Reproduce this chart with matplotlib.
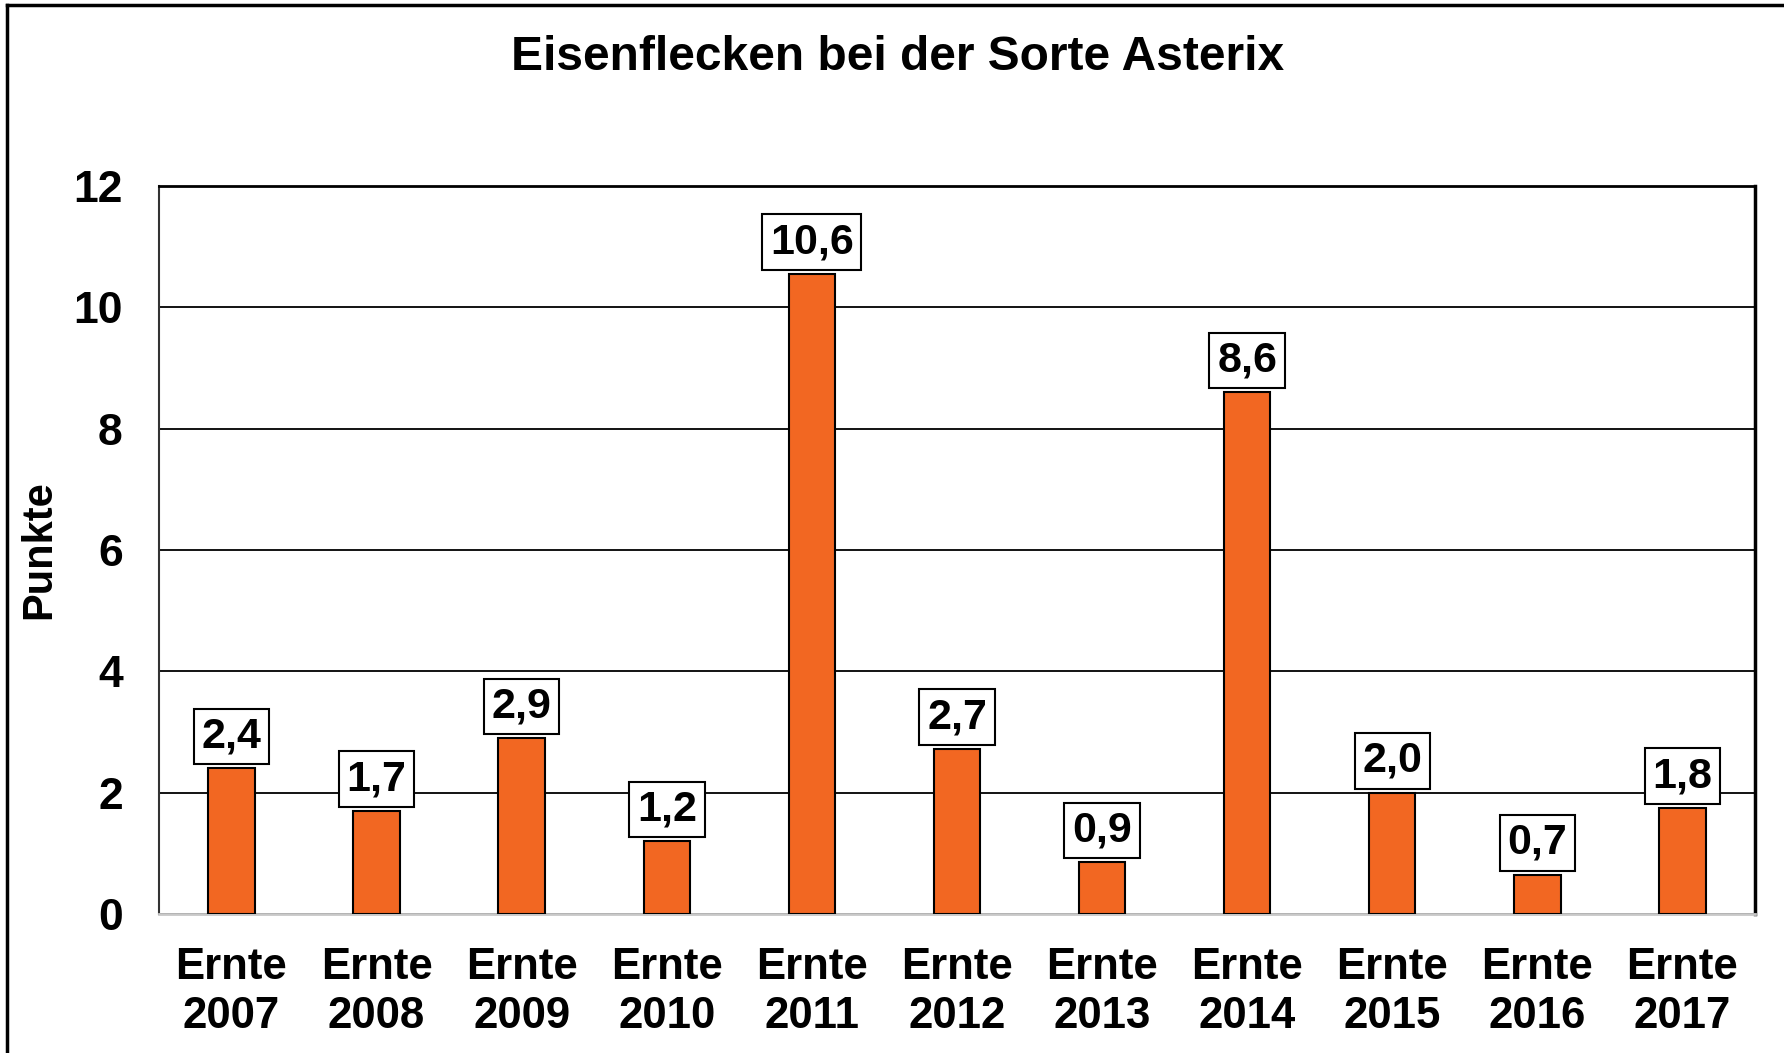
import matplotlib
matplotlib.use("Agg")
from matplotlib import pyplot as plt
from matplotlib.lines import Line2D

plt.rcParams['font.family'] = ['Liberation Sans', 'DejaVu Sans']
plt.rcParams['font.weight'] = 'bold'

years = ["2007", "2008", "2009", "2010", "2011", "2012", "2013", "2014", "2015", "2016", "2017"]
values = [2.4, 1.7, 2.9, 1.2, 10.55, 2.72, 0.85, 8.6, 2.0, 0.65, 1.75]
value_labels = ["2,4", "1,7", "2,9", "1,2", "10,6", "2,7", "0,9", "8,6", "2,0", "0,7", "1,8"]
yticks = [0, 2, 4, 6, 8, 10, 12]

fig = plt.figure(figsize=(17.84, 10.53), dpi=100)
ax = fig.add_axes([0.0891, 0.132, 0.8946, 0.6914])

x = range(len(years))
ax.bar(x, values, width=0.32, color="#F26722", edgecolor="black", linewidth=1.5, zorder=3)

for i in x:
    ax.annotate(value_labels[i], (i, values[i]), xytext=(0, 8.5), textcoords="offset points",
                ha="center", va="bottom", fontsize=31, fontweight="bold",
                bbox=dict(boxstyle="square,pad=0.18", fc="white", ec="black", lw=1.5), zorder=4)

ax.set_xlim(-0.5, len(years) - 0.5)
ax.set_ylim(0, 12)
ax.set_yticks(yticks)
ax.set_yticklabels([str(t) for t in yticks], fontsize=32, fontweight="bold")
ax.set_xticks(list(x))
ax.set_xticklabels(["Ernte\n" + y for y in years], fontsize=31.5, fontweight="bold", linespacing=1.25)
ax.tick_params(axis="both", length=0)
ax.tick_params(axis="x", pad=24)
ax.tick_params(axis="y", pad=26)
ax.grid(axis="y", color="black", linewidth=1.3, zorder=0)

ax.spines["bottom"].set_color("#c8c8c8")
ax.spines["bottom"].set_linewidth(2)
ax.spines["left"].set_color("#333333")
ax.spines["left"].set_linewidth(1.5)
ax.spines["top"].set_linewidth(2)
ax.spines["right"].set_linewidth(2.5)

ax.set_ylabel("Punkte", fontsize=30, fontweight="bold")
ax.yaxis.set_label_coords(-0.0627, 0.5)

fig.text(0.503, 0.945, "Eisenflecken bei der Sorte Asterix", ha="center", va="center",
         fontsize=34.5, fontweight="bold")

# outer frame (left and top only visible)
fig.add_artist(Line2D([0.004, 0.004], [0, 0.9955], transform=fig.transFigure, color="black", lw=2.5))
fig.add_artist(Line2D([0.004, 1], [0.9955, 0.9955], transform=fig.transFigure, color="black", lw=2.5))

fig.savefig("out.png", dpi=100)
